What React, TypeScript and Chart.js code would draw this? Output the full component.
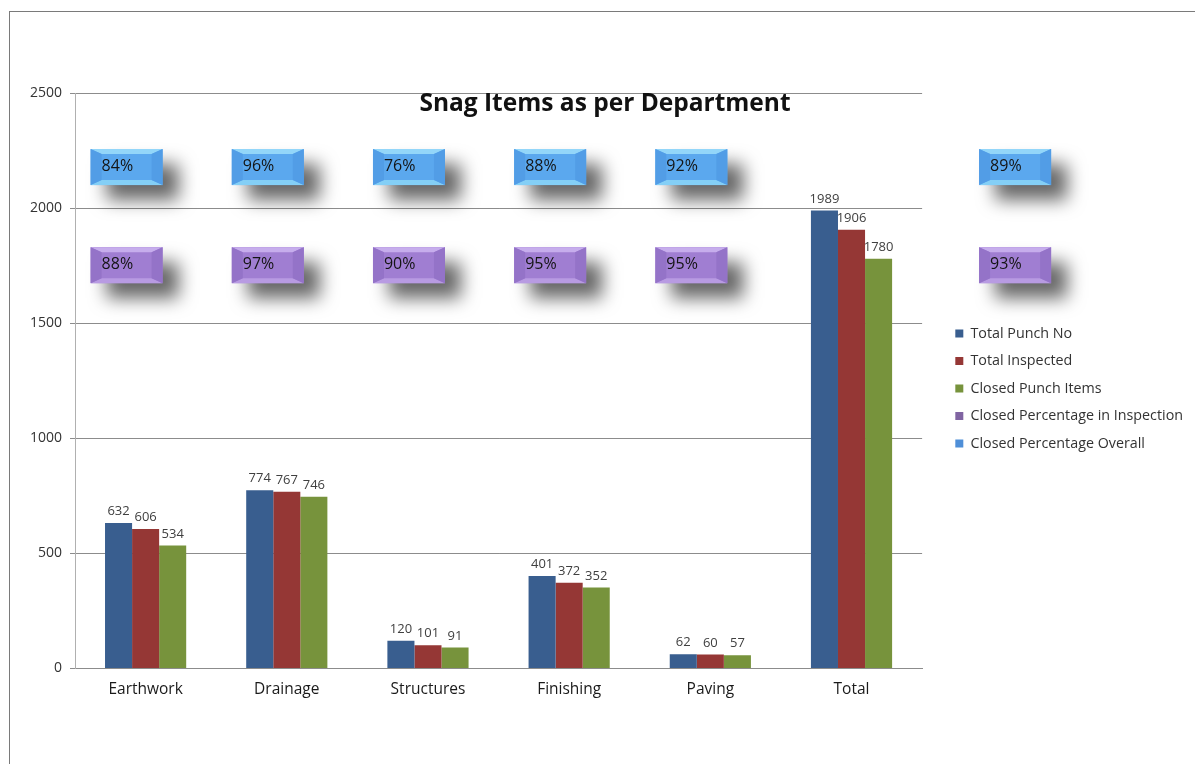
import React, { useEffect, useRef } from "react";
import { Chart, registerables } from "chart.js";

Chart.register(...registerables);

const categories = ["Earthwork", "Drainage", "Structures", "Finishing", "Paving", "Total"];
const totalPunchNo = [632, 774, 120, 401, 62, 1989];
const totalInspected = [606, 767, 101, 372, 60, 1906];
const closedPunchItems = [534, 746, 91, 352, 57, 1780];
const closedPctInspection = [88, 97, 90, 95, 95, 93];
const closedPctOverall = [84, 96, 76, 88, 92, 89];
const yTicks = [0, 500, 1000, 1500, 2000, 2500];
const chartTitle = "Snag Items as per Department";

const FONT = "'Open Sans', 'Liberation Sans', sans-serif";
const BLUE = "#395E8F";
const RED = "#953735";
const GREEN = "#77933C";
const PURPLE = "#8064A2";
const LIGHTBLUE = "#4F8FD8";

const BLUE_BOX = { base: "#5BA8EE", top: "#93D6F9", bottom: "#84CFF6", side: "#529DE6" };
const PURPLE_BOX = { base: "#A07ED2", top: "#C6ADEC", bottom: "#B89BE2", side: "#9473C8" };

function drawBox(ctx: CanvasRenderingContext2D, cx: number, cy: number, w: number, h: number, c: any, label: string) {
  const l = cx - w / 2;
  const t = cy - h / 2;
  ctx.save();
  ctx.shadowColor = "rgba(0,0,0,0.6)";
  ctx.shadowBlur = 18;
  ctx.shadowOffsetX = 16;
  ctx.shadowOffsetY = 15;
  ctx.fillStyle = c.base;
  ctx.fillRect(l, t, w, h);
  ctx.restore();

  const b = 11;
  const bt = 5;
  const poly = (pts: number[][], fill: string) => {
    ctx.fillStyle = fill;
    ctx.beginPath();
    ctx.moveTo(pts[0][0], pts[0][1]);
    for (let i = 1; i < pts.length; i++) ctx.lineTo(pts[i][0], pts[i][1]);
    ctx.closePath();
    ctx.fill();
  };
  poly([[l, t], [l + w, t], [l + w - b, t + bt], [l + b, t + bt]], c.top);
  poly([[l, t + h], [l + w, t + h], [l + w - b, t + h - bt], [l + b, t + h - bt]], c.bottom);
  poly([[l, t], [l + b, t + bt], [l + b, t + h - bt], [l, t + h]], c.side);
  poly([[l + w, t], [l + w - b, t + bt], [l + w - b, t + h - bt], [l + w, t + h]], c.side);

  ctx.fillStyle = "#141414";
  ctx.font = `16px ${FONT}`;
  ctx.textAlign = "left";
  ctx.textBaseline = "middle";
  ctx.fillText(label, l + 11, cy - 1);
}

const pctBoxesPlugin = {
  id: "pctBoxes",
  afterDatasetsDraw(chart: any) {
    const { ctx, chartArea, scales } = chart;
    const rows = [
      { values: closedPctOverall, yValue: 2178, colors: BLUE_BOX },
      { values: closedPctInspection, yValue: 1752, colors: PURPLE_BOX },
    ];
    rows.forEach((row) => {
      const cy = scales.y.getPixelForValue(row.yValue);
      row.values.forEach((v, i) => {
        const cx = i < categories.length - 1 ? scales.x.getPixelForValue(i) - 19 : chartArea.right + 93;
        drawBox(ctx, cx, cy, 72, 36, row.colors, `${v}%`);
      });
    });
  },
};

const valueLabelsPlugin = {
  id: "valueLabels",
  afterDatasetsDraw(chart: any) {
    const { ctx } = chart;
    ctx.save();
    ctx.font = `13px ${FONT}`;
    ctx.fillStyle = "#404040";
    ctx.textAlign = "center";
    ctx.textBaseline = "bottom";
    chart.data.datasets.forEach((ds: any, di: number) => {
      const meta = chart.getDatasetMeta(di);
      meta.data.forEach((el: any, i: number) => {
        ctx.fillText(String(ds.data[i]), el.x, el.y - 5);
      });
    });
    ctx.restore();
  },
};

const titlePlugin = {
  id: "innerTitle",
  afterDraw(chart: any) {
    const { ctx } = chart;
    ctx.save();
    ctx.font = `bold 24.5px ${FONT}`;
    ctx.fillStyle = "#111111";
    ctx.textAlign = "center";
    ctx.textBaseline = "middle";
    ctx.fillText(chartTitle, 605, 104);
    ctx.restore();
  },
};

export default function App() {
  const ref = useRef<HTMLCanvasElement | null>(null);
  useEffect(() => {
    if (!ref.current) return;
    const chart = new Chart(ref.current, {
      type: "bar",
      data: {
        labels: categories,
        datasets: [
          { label: "Total Punch No", data: totalPunchNo, backgroundColor: BLUE },
          { label: "Total Inspected", data: totalInspected, backgroundColor: RED },
          { label: "Closed Punch Items", data: closedPunchItems, backgroundColor: GREEN },
        ],
      },
      options: {
        responsive: false,
        animation: false,
        layout: { padding: { left: 22, top: 93, right: 2, bottom: 53 } },
        datasets: { bar: { categoryPercentage: 0.575, barPercentage: 1 } },
        scales: {
          x: {
            grid: { display: false, drawTicks: false },
            border: { display: true, color: "#8c8c8c" },
            ticks: { padding: 12, color: "#1a1a1a", font: { family: FONT, size: 15.5 } },
          },
          y: {
            min: 0,
            max: 2500,
            afterBuildTicks: (s: any) => {
              s.ticks = yTicks.map((v) => ({ value: v }));
            },
            grid: { color: "#8c8c8c", tickLength: 5, drawTicks: true },
            border: { display: true, color: "#b0b0b0" },
            ticks: { padding: 8, color: "#333333", font: { family: FONT, size: 14 }, callback: (v: any) => String(v) },
          },
          gap: {
            type: "linear",
            position: "right",
            display: true,
            ticks: { display: false },
            grid: { display: false, drawTicks: false },
            border: { display: false },
            afterFit: (s: any) => {
              s.width = 20;
            },
          },
        },
        plugins: {
          title: { display: false },
          tooltip: { enabled: false },
          legend: {
            position: "right",
            fullSize: false,
            maxWidth: 320,
            title: { display: true, text: " ", padding: 0, font: { family: FONT, size: 13 } },
            labels: {
              boxWidth: 8,
              boxHeight: 8,
              padding: 13.2,
              color: "#333333",
              font: { family: FONT, size: 14.3 },
              generateLabels: (chart: any) => {
                const base = Chart.defaults.plugins.legend.labels.generateLabels(chart);
                return [
                  ...base,
                  { text: "Closed Percentage in Inspection", fillStyle: PURPLE, strokeStyle: PURPLE, lineWidth: 0, hidden: false, fontColor: "#333333" },
                  { text: "Closed Percentage Overall", fillStyle: LIGHTBLUE, strokeStyle: LIGHTBLUE, lineWidth: 0, hidden: false, fontColor: "#333333" },
                ] as any;
              },
            },
          },
        },
      } as any,
      plugins: [pctBoxesPlugin, valueLabelsPlugin, titlePlugin],
    });
    return () => chart.destroy();
  }, []);

  return (
    <div style={{ position: "absolute", left: 0, top: 0, width: 1195, height: 764, overflow: "hidden", background: "#ffffff" }}>
      <div
        style={{
          position: "absolute",
          left: 9,
          top: 11,
          width: 1200,
          height: 770,
          borderLeft: "1px solid #7a7a7a",
          borderTop: "1px solid #7a7a7a",
        }}
      />
      <canvas ref={ref} width={1195} height={764} style={{ position: "absolute", left: 0, top: 0, width: 1195, height: 764 }} />
    </div>
  );
}
